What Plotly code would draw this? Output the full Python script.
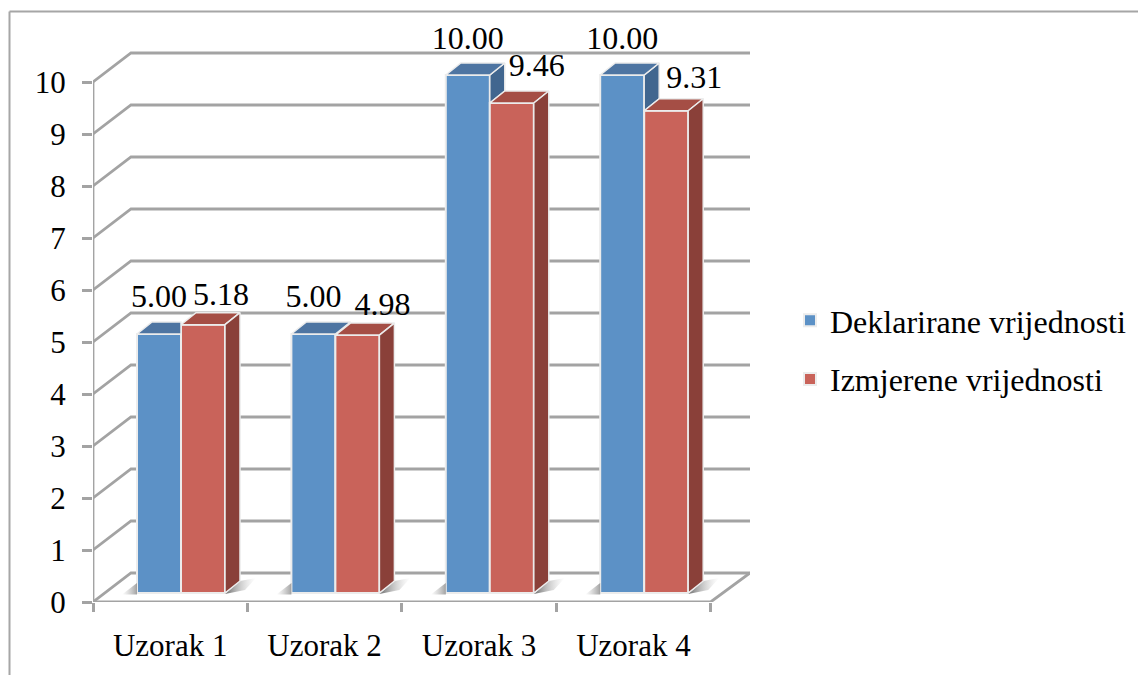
import plotly.graph_objects as go

categories = ["Uzorak 1", "Uzorak 2", "Uzorak 3", "Uzorak 4"]
declared = [5.00, 5.00, 10.00, 10.00]
measured = [5.18, 4.98, 9.46, 9.31]
y_ticks = list(range(0, 11))
names = ["Deklarirane vrijednosti", "Izmjerene vrijednosti"]

# geometry (pixels -> axis units); the page body adds an 8 px margin
PAGE = 8
L, R, T, B = 93 - PAGE, 750 - PAGE, 10 - PAGE, 602 - PAGE
GROUP_PX, UNIT_PX = 154.4, 52.0
W, H = 1146 - PAGE, 675 - PAGE
xu = lambda p: p / GROUP_PX
yu = lambda p: p / UNIT_PX
DEPTH_X, DEPTH_Y = xu(38), yu(29)
SIDE_X, SIDE_Y = xu(15), yu(12)
BAR_W = xu(44)
BAR_START = xu(44)
BASE = yu(9)
SCALE = 51.8 / 52
GRID = "#a3a3a3"
FONT = "Liberation Serif"
BLUE, BLUE_SIDE, BLUE_TOP = "#5C91C6", "#41668F", "#4E75A2"
RED, RED_SIDE, RED_TOP = "#C9635A", "#8A4039", "#A54E45"
OUT = "#ECECEC"

LABEL_D = {"dx": [0, 0, 0, 0], "dy": [35, 35, 34, 34]}
LABEL_M = {"dx": [18, 25, 25, 28], "dy": [28, 28, 35, 31]}

fig = go.Figure()
n = len(categories)
bx = [i + BAR_START for i in range(n)]
rx = [b + BAR_W for b in bx]


def top(v):
    return BASE + v * SCALE


for vals, xs, col, name in ((declared, bx, BLUE, names[0]), (measured, rx, RED, names[1])):
    fig.add_trace(go.Bar(x=xs, y=[v * SCALE for v in vals], base=BASE, width=BAR_W, offset=0,
                         marker=dict(color=col, line=dict(color=OUT, width=2)),
                         name=name, legendgroup=name, customdata=vals,
                         hovertemplate="%{customdata:.2f}<extra></extra>"))


def poly(px, py, fill, line=True):
    fig.add_trace(go.Scatter(x=px, y=py, mode="lines", fill="toself", fillcolor=fill,
                             line=dict(color=OUT if line else fill, width=1.5),
                             showlegend=False, hoverinfo="skip"))


def shadow(px, py, colors):
    fig.add_trace(go.Scatter(x=px, y=py, mode="lines", fill="toself", line=dict(width=0),
                             fillgradient=dict(type="horizontal", colorscale=[[0, colors[0]], [1, colors[1]]]),
                             showlegend=False, hoverinfo="skip"))


# floor shadows
for i in range(n):
    x0 = bx[i]
    x1 = rx[i] + BAR_W
    shadow([x0 - xu(15), x0, x0, x0 - xu(15)], [BASE - yu(1.5), BASE - yu(1.5), BASE + yu(10), BASE - yu(1.5)],
           ("rgba(170,170,170,0)", "rgba(140,140,140,0.8)"))
    shadow([x1, x1 + SIDE_X, x1 + xu(31), x1 + xu(20), x1],
           [BASE - yu(1), BASE + SIDE_Y, BASE + yu(15), BASE + yu(3), BASE - yu(1)],
           ("rgba(100,100,100,0.95)", "rgba(200,200,200,0)"))

# 3D faces drawn back to front
for i in range(n):
    d, m = declared[i], measured[i]
    b0, b1, r1 = bx[i], rx[i], rx[i] + BAR_W
    yd, ym = top(d), top(m)
    if m < d:
        poly([b1, b1 + SIDE_X, b1 + SIDE_X, b1, b1], [yd, yd + SIDE_Y, ym + SIDE_Y, ym, yd], BLUE_SIDE)
        poly([b0, b1, b1 + SIDE_X, b0 + SIDE_X, b0], [yd, yd, yd + SIDE_Y, yd + SIDE_Y, yd], BLUE_TOP)
    else:
        poly([b0, b1, b1, b0 + SIDE_X, b0], [yd, yd, yd + SIDE_Y, yd + SIDE_Y, yd], BLUE_TOP)
    poly([b1, r1, r1 + SIDE_X, b1 + SIDE_X, b1], [ym, ym, ym + SIDE_Y, ym + SIDE_Y, ym], RED_TOP)
    poly([r1, r1 + SIDE_X, r1 + SIDE_X, r1, r1],
         [ym, ym + SIDE_Y, BASE + SIDE_Y, BASE, ym], RED_SIDE)

# data labels
for vals, xs, lab in ((declared, bx, LABEL_D), (measured, rx, LABEL_M)):
    fig.add_trace(go.Scatter(
        x=[x + BAR_W / 2 + xu(dx) for x, dx in zip(xs, lab["dx"])],
        y=[top(v) + yu(dy) for v, dy in zip(vals, lab["dy"])],
        text=[f"{v:.2f}" for v in vals], mode="text", textposition="middle center",
        textfont=dict(family=FONT, size=32, color="#000000"),
        cliponaxis=False, showlegend=False, hoverinfo="skip"))

# walls and floor
shapes = []


def seg(x, y, line_w=2.8):
    path = "M" + " L".join(f"{a},{b}" for a, b in zip(x, y))
    shapes.append(dict(type="path", path=path, xref="x", yref="y", layer="below",
                       line=dict(color=GRID, width=line_w)))


for t in y_ticks:
    seg([0, DEPTH_X, xu(R - L)], [t, t + DEPTH_Y, t + DEPTH_Y])
seg([0, 0], [0, y_ticks[-1]])
seg([0, n, xu(R - L)], [0, 0, DEPTH_Y])

# outer frame, in page pixels
pxx = lambda p: (p - PAGE - L) / (R - L)
pxy = lambda p: (B - (p - PAGE)) / (B - T)
for a, b, c, d in ((9.5, 11.5, 9.5, 675), (9.5, 11.5, 1146, 11.5)):
    shapes.append(dict(type="line", xref="paper", yref="paper", x0=pxx(a), y0=pxy(b), x1=pxx(c), y1=pxy(d),
                       line=dict(color="#a6a6a6", width=2)))

fig.update_layout(
    width=W, height=H, autosize=False,
    margin=dict(l=L, r=W - R, t=T, b=H - B, pad=0),
    paper_bgcolor="white", plot_bgcolor="white",
    barmode="overlay", shapes=shapes,
    font=dict(family=FONT, size=31, color="#000000"),
    legend=dict(x=pxx(790), y=pxy(293), xanchor="left", yanchor="top", tracegroupgap=14,
                font=dict(family=FONT, size=32, color="#000000"), bgcolor="rgba(0,0,0,0)",
                itemclick=False, itemdoubleclick=False),
    xaxis=dict(range=[0, xu(R - L)], tickmode="array", tickvals=[i + 0.5 for i in range(n)],
               ticktext=categories, ticks="outside", ticklen=12, tickcolor="rgba(0,0,0,0)",
               ticklabelstandoff=4, showgrid=False, zeroline=False, showline=False,
               minor=dict(tickmode="array", tickvals=list(range(n + 1)), ticks="outside", ticklen=9,
                          tickwidth=2.5, tickcolor=GRID, showgrid=False),
               tickfont=dict(family=FONT, size=31, color="#000000")),
    yaxis=dict(range=[0, yu(B - T)], tickmode="array", tickvals=y_ticks, ticktext=[str(t) for t in y_ticks],
               ticks="outside", ticklen=10, tickwidth=2.5, tickcolor=GRID, ticklabelstandoff=10,
               showgrid=False, zeroline=False, showline=False,
               tickfont=dict(family=FONT, size=31, color="#000000")),
)
fig.write_html("out.html")
